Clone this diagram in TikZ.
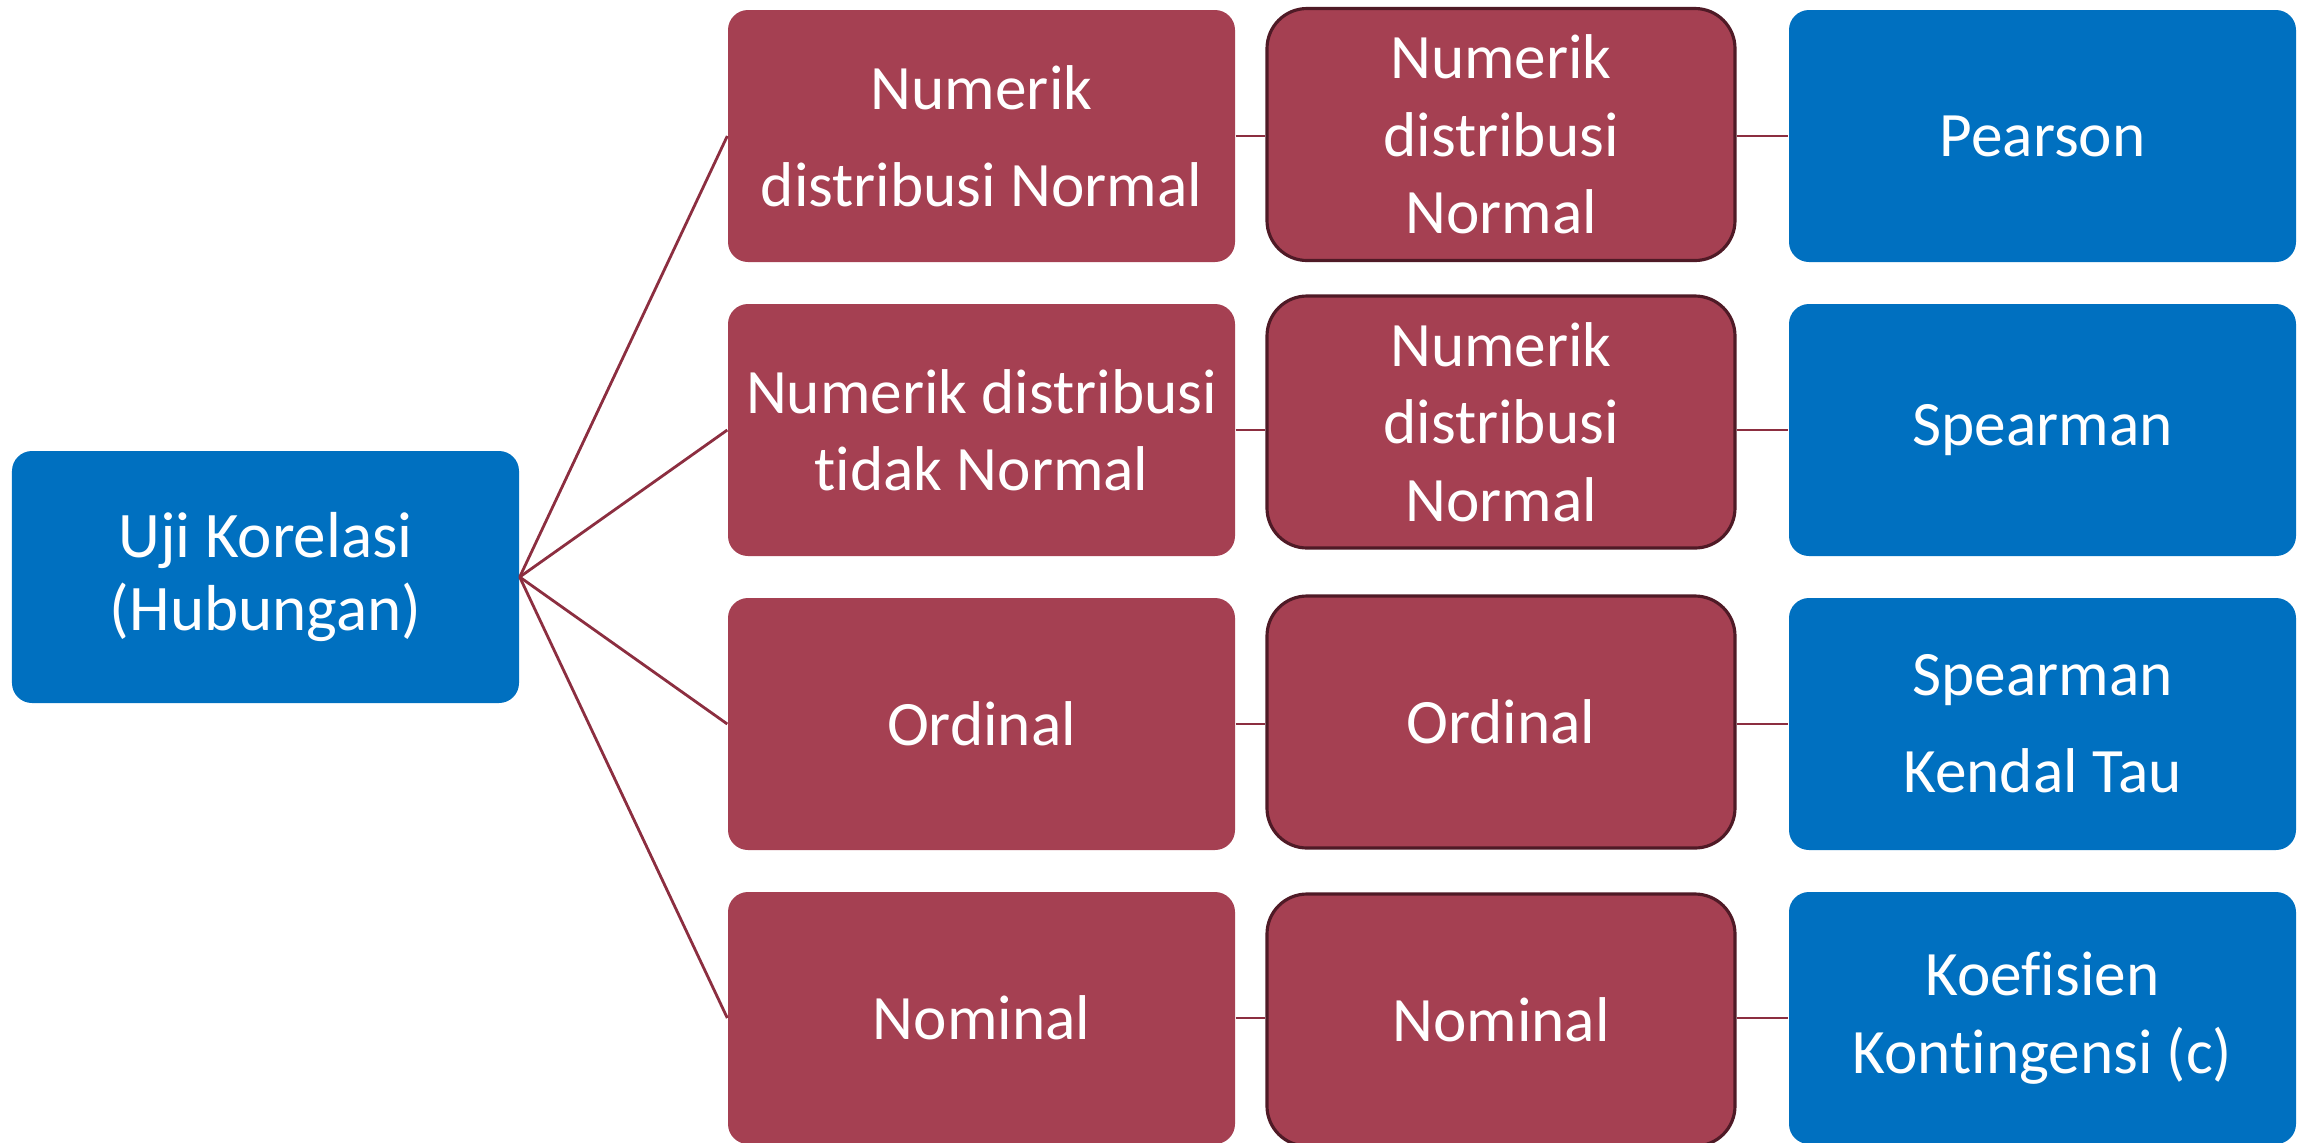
\documentclass[tikz,border=0pt]{standalone}
\usepackage{fontspec}
\setmainfont{Carlito}[Ligatures=NoCommon]
\usepackage{tikz}
\usetikzlibrary{positioning}

\definecolor{katred}{HTML}{A54052}
\definecolor{katedge}{HTML}{4F1A26}
\definecolor{hubline}{HTML}{8C2E40}
\definecolor{ujiblue}{HTML}{0070C0}

\begin{document}
\begin{tikzpicture}[every node/.style={inner sep=0pt,align=center,text=white,minimum height=2.52cm,font=\fontsize{18}{22}\selectfont},
  kat/.style={fill=katred,rounded corners=0.2cm,minimum width=5.07cm},
  var/.style={fill=katred,draw=katedge,line width=0.9pt,rounded corners=0.4cm,minimum width=4.68cm},
  uji/.style={fill=ujiblue,rounded corners=0.2cm,minimum width=5.07cm},
  hub/.style={draw=hubline,line width=0.8pt}]
\useasboundingbox (0,0) rectangle (23.05,-11.42);

\node[uji,font=\fontsize{18.5}{21}\selectfont](u) at (2.655, -5.77) {Uji Korelasi\\(Hubungan)};

\node[kat](r1a) at (9.815, -1.36) {Numerik\\[5.7pt]distribusi Normal};
\node[kat](r2a) at (9.815, -4.30) {Numerik distribusi\\tidak Normal};
\node[kat](r3a) at (9.815, -7.24) {Ordinal};
\node[kat](r4a) at (9.815, -10.18) {Nominal};

\node[var](r1b) at (15.01, -1.345) {Numerik\\distribusi\\Normal};
\node[var](r2b) at (15.01, -4.22) {Numerik\\distribusi\\Normal};
\node[var](r3b) at (15.01, -7.22) {Ordinal};
\node[var](r4b) at (15.01, -10.20) {Nominal};

\node[uji](r1c) at (20.425, -1.36) {Pearson};
\node[uji](r2c) at (20.425, -4.30) {Spearman};
\node[uji](r3c) at (20.425, -7.24) {Spearman\\[5.7pt]Kendal Tau};
\node[uji](r4c) at (20.425, -10.18) {Koefisien\\Kontingensi (c)};

\draw[hub] (u.east)--(r1a.west); \draw[hub] (u.east)--(r2a.west); \draw[hub] (u.east)--(r3a.west); \draw[hub] (u.east)--(r4a.west);
\draw[hub] (r1a.east)--(r1a.east -| r1b.west); \draw[hub] (r2a.east)--(r2a.east -| r2b.west); \draw[hub] (r3a.east)--(r3a.east -| r3b.west); \draw[hub] (r4a.east)--(r4a.east -| r4b.west);
\draw[hub] (r1c.west -| r1b.east)--(r1c.west); \draw[hub] (r2c.west -| r2b.east)--(r2c.west); \draw[hub] (r3c.west -| r3b.east)--(r3c.west); \draw[hub] (r4c.west -| r4b.east)--(r4c.west);
\end{tikzpicture}
\end{document}
